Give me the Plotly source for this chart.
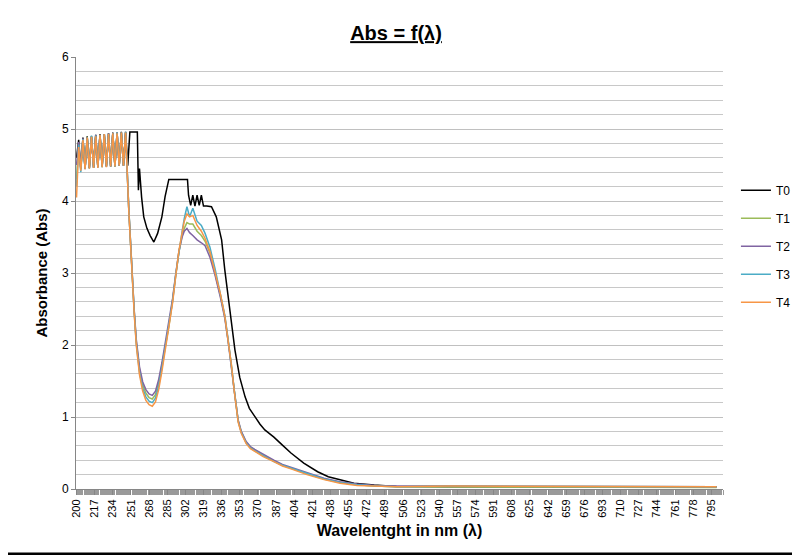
import plotly.graph_objects as go

# ---- data ----
noise_nm = list(range(200, 248, 2))
t0_noise = [4.60, 4.85, 4.45, 4.88, 4.45, 4.90, 4.46, 4.90, 4.47, 4.92, 4.47, 4.93, 4.48, 4.93, 4.48, 4.94, 4.48, 4.95, 4.48, 4.95, 4.49, 4.96, 4.49, 4.96]
t1_noise = [4.30, 4.80, 4.44, 4.86, 4.45, 4.89, 4.46, 4.90, 4.46, 4.91, 4.47, 4.92, 4.47, 4.93, 4.48, 4.94, 4.48, 4.94, 4.48, 4.95, 4.49, 4.95, 4.49, 4.95]
t2_noise = [4.50, 4.82, 4.45, 4.87, 4.44, 4.88, 4.46, 4.90, 4.46, 4.92, 4.47, 4.92, 4.48, 4.93, 4.48, 4.94, 4.48, 4.94, 4.49, 4.95, 4.49, 4.95, 4.49, 4.95]
t3_noise = [4.20, 4.78, 4.40, 4.86, 4.45, 4.88, 4.45, 4.91, 4.46, 4.91, 4.47, 4.92, 4.47, 4.93, 4.48, 4.93, 4.48, 4.94, 4.48, 4.95, 4.49, 4.95, 4.49, 4.96]
t4_noise = [4.05, 4.75, 4.42, 4.85, 4.44, 4.88, 4.45, 4.89, 4.46, 4.90, 4.46, 4.92, 4.47, 4.93, 4.47, 4.93, 4.48, 4.94, 4.48, 4.94, 4.49, 4.95, 4.49, 4.95]

t0_nm = [248, 250, 252, 254, 256, 257, 258, 259, 261, 263, 266, 269, 272.5, 276, 280, 283, 286.5, 304, 305, 307, 309, 311, 313, 315, 317, 319, 322, 326.5, 331, 336, 339, 344, 348.5, 353, 358, 362, 367, 372, 376.5, 385, 393, 401, 413, 426, 436, 447, 460, 479, 500, 550, 600, 650, 700, 750, 800]
t0_val = [4.49, 4.96, 4.96, 4.96, 4.96, 4.96, 4.15, 4.45, 4.05, 3.78, 3.62, 3.52, 3.43, 3.55, 3.78, 4.06, 4.30, 4.30, 4.08, 3.94, 4.08, 3.93, 4.08, 3.94, 4.08, 3.93, 3.93, 3.92, 3.78, 3.46, 3.04, 2.49, 1.93, 1.55, 1.28, 1.12, 1.00, 0.90, 0.82, 0.72, 0.61, 0.50, 0.36, 0.24, 0.17, 0.125, 0.08, 0.055, 0.035, 0.03, 0.03, 0.03, 0.03, 0.03, 0.03]

c_nm = [249, 252, 254, 256, 259, 262, 265, 268, 271, 274, 277, 280, 283, 286.5, 290, 293, 296, 299, 301, 303.5, 306, 309, 313, 317, 320.5, 325, 330, 335, 339, 342, 345, 348, 351.5, 354.5, 359, 363, 367, 375, 385, 393, 401, 416, 432, 447, 463, 480, 500, 550, 600, 650, 700, 750, 800]
t1_val = [3.88, 2.95, 2.49, 2.05, 1.66, 1.45, 1.33, 1.27, 1.25, 1.31, 1.48, 1.72, 1.98, 2.25, 2.62, 2.98, 3.30, 3.52, 3.62, 3.70, 3.68, 3.68, 3.58, 3.52, 3.44, 3.28, 3.00, 2.68, 2.39, 2.08, 1.75, 1.35, 0.95, 0.79, 0.65, 0.58, 0.54, 0.47, 0.39, 0.33, 0.29, 0.21, 0.14, 0.09, 0.06, 0.04, 0.03, 0.03, 0.03, 0.03, 0.03, 0.02, 0.02]
t2_val = [3.88, 2.95, 2.50, 2.08, 1.70, 1.49, 1.38, 1.32, 1.30, 1.36, 1.52, 1.75, 2.01, 2.28, 2.64, 2.99, 3.30, 3.50, 3.58, 3.62, 3.56, 3.52, 3.46, 3.42, 3.38, 3.22, 2.96, 2.65, 2.37, 2.06, 1.74, 1.35, 0.96, 0.80, 0.66, 0.59, 0.55, 0.48, 0.40, 0.34, 0.30, 0.22, 0.15, 0.10, 0.07, 0.05, 0.04, 0.04, 0.04, 0.03, 0.03, 0.03, 0.03]
t3_val = [3.88, 2.94, 2.47, 2.02, 1.62, 1.40, 1.28, 1.22, 1.20, 1.26, 1.43, 1.68, 1.95, 2.23, 2.60, 2.98, 3.32, 3.58, 3.76, 3.92, 3.78, 3.90, 3.72, 3.66, 3.55, 3.36, 3.05, 2.72, 2.41, 2.09, 1.76, 1.36, 0.94, 0.78, 0.64, 0.57, 0.53, 0.46, 0.38, 0.33, 0.29, 0.21, 0.14, 0.09, 0.06, 0.04, 0.03, 0.04, 0.04, 0.04, 0.03, 0.03, 0.03]
t4_val = [3.86, 2.92, 2.45, 2.00, 1.59, 1.36, 1.23, 1.17, 1.15, 1.21, 1.38, 1.63, 1.91, 2.20, 2.58, 2.96, 3.31, 3.56, 3.72, 3.82, 3.78, 3.80, 3.66, 3.58, 3.48, 3.30, 3.01, 2.70, 2.40, 2.08, 1.74, 1.34, 0.93, 0.77, 0.63, 0.56, 0.52, 0.45, 0.38, 0.32, 0.28, 0.20, 0.13, 0.08, 0.05, 0.04, 0.03, 0.04, 0.04, 0.04, 0.04, 0.03, 0.03]

series_names = ["T0", "T1", "T2", "T3", "T4"]
colors = ["#000000", "#9BBB59", "#8064A2", "#4BACC6", "#F79646"]
tick_labels = list(range(200, 800, 17))

xs = [noise_nm + t0_nm] + [noise_nm + c_nm] * 4
ys = [t0_noise + t0_val, t1_noise + t1_val, t2_noise + t2_val, t3_noise + t3_val, t4_noise + t4_val]

fig = go.Figure()
for name, col, x, y in zip(series_names, colors, xs, ys):
    fig.add_trace(go.Scatter(x=x, y=y, mode="lines", name=name, legendgroup=name,
                             line=dict(color=col, width=1.5)))

fig.update_layout(
    width=800, height=559,
    margin=dict(l=68, r=85, t=49, b=78),
    paper_bgcolor="white", plot_bgcolor="white",
    font=dict(family="Liberation Sans, Arial", color="black"),
    title=dict(text="<b><u>Abs = f(λ)</u></b>", x=0.485, xanchor="center",
               y=0.955, yanchor="middle", font=dict(size=20, family="Liberation Sans")),
    showlegend=True,
    legend=dict(x=1.02, y=0.725, xanchor="left", yanchor="top",
                font=dict(size=12), tracegroupgap=9, itemwidth=30,
                bgcolor="rgba(0,0,0,0)"),
    xaxis=dict(range=[199.5, 806], tickmode="array", tickvals=tick_labels,
               ticktext=[str(v) for v in tick_labels], tickangle=-90,
               tickfont=dict(size=11), showgrid=False, zeroline=False,
               showline=True, linecolor="#868686", ticks="outside", ticklen=5,
               tickcolor="#868686",
               minor=dict(dtick=1, ticks="outside", ticklen=5, tickcolor="#9a9a9a", tickmode="linear", tick0=200),
               title=dict(text="<b>Wavelentght in nm (λ)</b>", font=dict(size=16), standoff=8)),
    yaxis=dict(range=[0, 6], dtick=1, tickfont=dict(size=12), showgrid=True,
               gridcolor="#c0c0c0", zeroline=False, showline=True, linecolor="#868686",
               ticks="outside", ticklen=4, tickcolor="#868686",
               minor=dict(dtick=0.2, showgrid=True, gridcolor="#c8c8c8"),
               title=dict(text="<b>Absorbance (Abs)</b>", font=dict(size=15), standoff=10)),
)
fig.add_shape(type="rect", xref="paper", yref="paper", x0=-0.112, y0=-0.15, x1=1.112, y1=1.124,
              line=dict(color="black", width=2.5))
fig.write_html("out.html")
